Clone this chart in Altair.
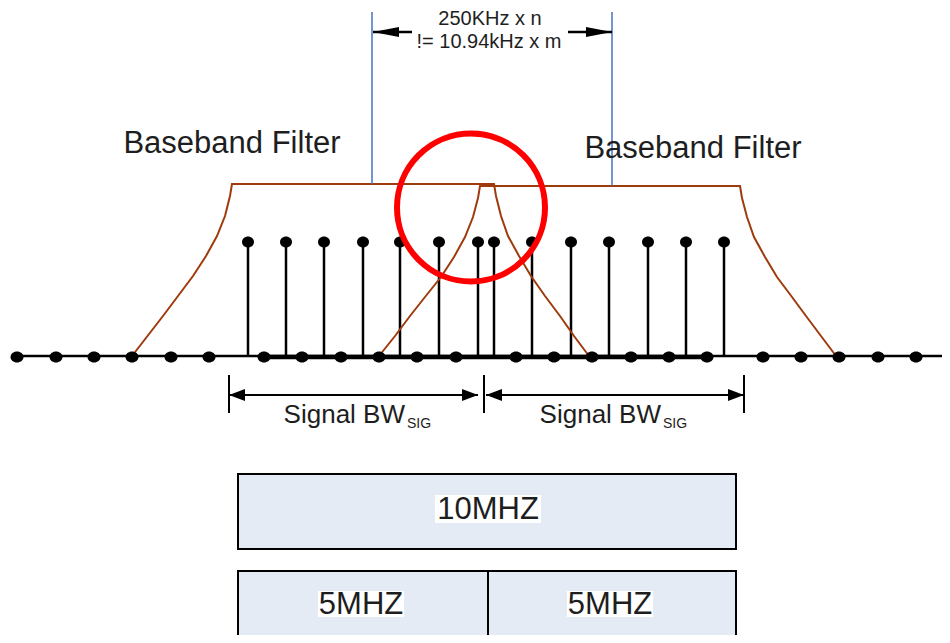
import altair as alt
import pandas as pd

# ---- values (page-pixel coordinates) ----
axis_y = 356
axis_dots_x = [17, 56, 94, 132, 171, 209, 264, 302, 341, 379, 417, 456,
               516, 554, 592, 631, 669, 707, 763, 801, 839, 878, 916, 950]
stems_x = [248, 286, 324, 363, 400, 439, 478,
           494, 532, 571, 609, 648, 686, 724]
stem_top_y = 242

# two baseband filter outlines
filter_a_x = [132, 147.5, 163, 178, 193, 206, 217, 225, 230, 232,
              494, 496, 501, 508, 519, 531, 545, 560, 574, 589]
filter_a_y = [356, 336, 316, 296, 276, 256, 236, 216, 196, 184,
              184, 196, 216, 236, 256, 276, 296, 316, 336, 356]
filter_b_x = [379, 395, 410, 425, 441, 454, 465, 473, 478, 480,
              740, 742, 747, 754, 765, 777, 792, 806, 821, 836]
filter_b_y = [356, 336, 316, 297, 277, 257, 237, 217, 198, 186,
              186, 198, 217, 237, 257, 277, 297, 316, 336, 356]

guide_x = [372, 612]
guide_y_top = [12, 12]
guide_y_bottom = [184, 186]

top_arrow_y = 32
top_arrow_from = [373, 568]
top_arrow_to = [412, 612]

bw_y = 395
bw_from = [229, 486]
bw_to = [478, 744]
bw_ticks_x = [229, 484, 744]

boxes_x = [238, 238, 488]
boxes_x2 = [736, 488, 736]
boxes_y = [474, 571, 571]
boxes_y2 = [549, 660, 660]

big_labels = ["Baseband Filter", "Baseband Filter", "10MHZ", "5MHZ", "5MHZ"]
big_labels_x = [232, 693, 488, 361, 610]
big_labels_y = [153, 158, 519, 614, 614]

top_labels = ["250KHz x n", "!= 10.94kHz x m"]
top_labels_x = [490, 489]
top_labels_y = [25, 48]

bw_labels = ["Signal BW", "Signal BW"]
bw_labels_x = [405, 661]
bw_labels_y = [423, 423]
sub_labels = ["SIG", "SIG"]
sub_labels_x = [407, 663]
sub_labels_y = [428, 428]

circle_x = [471]
circle_y = [207.5]

# ---- chart ----
W, H = 934, 627
X = lambda f="x": alt.X(f"{f}:Q", scale=alt.Scale(domain=[8, 8 + W], nice=False, zero=False), axis=None)
Y = lambda f="y": alt.Y(f"{f}:Q", scale=alt.Scale(domain=[8, 8 + H], nice=False, zero=False, reverse=True), axis=None)

FONT = "Liberation Sans"
TXT = "#1e1e1e"
BROWN = "#9E3B0C"
BLUE = "#4472C4"

layers = []

# boxes
df_boxes = pd.DataFrame({"x": boxes_x, "x2": boxes_x2, "y": boxes_y, "y2": boxes_y2})
layers.append(alt.Chart(df_boxes).mark_rect(fill="#E4EBF5", stroke="black", strokeWidth=2).encode(
    x=X(), x2="x2:Q", y=Y(), y2="y2:Q"))

# axis line
df_axis = pd.DataFrame({"x": [14], "x2": [950], "y": [axis_y]})
layers.append(alt.Chart(df_axis).mark_rule(color="black", strokeWidth=2.5).encode(x=X(), x2="x2:Q", y=Y()))
df_thick = pd.DataFrame({"x": [stems_x[0] + 14], "x2": [axis_dots_x[17] + 5], "y": [axis_y + 1]})
layers.append(alt.Chart(df_thick).mark_rule(color="black", strokeWidth=4.5).encode(x=X(), x2="x2:Q", y=Y()))

# stems
df_stems = pd.DataFrame({"x": stems_x, "y": [stem_top_y] * len(stems_x), "y2": [axis_y] * len(stems_x)})
layers.append(alt.Chart(df_stems).mark_rule(color="black", strokeWidth=2.5).encode(x=X(), y=Y(), y2="y2:Q"))

# filters
rows = []
for name, xs, ys in [("a", filter_a_x, filter_a_y), ("b", filter_b_x, filter_b_y)]:
    for i, (xx, yy) in enumerate(zip(xs, ys)):
        rows.append({"f": name, "i": i, "x": xx, "y": yy})
df_filters = pd.DataFrame(rows)
layers.append(alt.Chart(df_filters).mark_line(color=BROWN, strokeWidth=2, interpolate="linear").encode(
    x=X(), y=Y(), detail="f:N", order="i:Q"))

# blue guides
df_guides = pd.DataFrame({"x": guide_x, "y": guide_y_top, "y2": guide_y_bottom})
layers.append(alt.Chart(df_guides).mark_rule(color=BLUE, strokeWidth=1.5).encode(x=X(), y=Y(), y2="y2:Q"))

# top arrow shafts
df_ta = pd.DataFrame({"x": top_arrow_from, "x2": top_arrow_to, "y": [top_arrow_y] * 2})
layers.append(alt.Chart(df_ta).mark_rule(color="black", strokeWidth=2.5).encode(x=X(), x2="x2:Q", y=Y()))

# bw arrow shafts and ticks
df_bw = pd.DataFrame({"x": bw_from, "x2": bw_to, "y": [bw_y] * 2})
layers.append(alt.Chart(df_bw).mark_rule(color="black", strokeWidth=2).encode(x=X(), x2="x2:Q", y=Y()))
df_bwt = pd.DataFrame({"x": bw_ticks_x, "y": [bw_y - 20] * 3, "y2": [bw_y + 18] * 3})
layers.append(alt.Chart(df_bwt).mark_rule(color="black", strokeWidth=2).encode(x=X(), y=Y(), y2="y2:Q"))

# arrowheads
heads = [
    ("M0,0 L26,-5 L26,5 Z", [top_arrow_from[0]], [top_arrow_y]),
    ("M0,0 L-26,-5 L-26,5 Z", [top_arrow_to[1]], [top_arrow_y]),
    ("M0,0 L16,-6 L16,6 Z", [bw_from[0], bw_from[1]], [bw_y, bw_y]),
    ("M0,0 L-16,-6 L-16,6 Z", [bw_to[0], bw_to[1]], [bw_y, bw_y]),
]
for path, xs, ys in heads:
    d = pd.DataFrame({"x": xs, "y": ys})
    layers.append(alt.Chart(d).mark_point(shape=path, size=4, filled=True, fill="black",
                                          strokeWidth=0, opacity=1).encode(x=X(), y=Y()))

# dots
df_adots = pd.DataFrame({"x": axis_dots_x, "y": [axis_y + 1] * len(axis_dots_x)})
layers.append(alt.Chart(df_adots).mark_point(shape="M-6.5,0 A6.5,5.5 0 1,0 6.5,0 A6.5,5.5 0 1,0 -6.5,0 Z", size=4,
                                             filled=True, fill="black", strokeWidth=0, opacity=1).encode(x=X(), y=Y()))
df_sdots = pd.DataFrame({"x": stems_x, "y": [stem_top_y] * len(stems_x)})
layers.append(alt.Chart(df_sdots).mark_point(shape="M-6,0 A6,5.5 0 1,0 6,0 A6,5.5 0 1,0 -6,0 Z", size=4,
                                             filled=True, fill="black", strokeWidth=0, opacity=1).encode(x=X(), y=Y()))

# white background behind the box labels
df_tbg = pd.DataFrame({"x": [435, 318, 567], "x2": [541, 404, 653],
                       "y": [495, 591, 591], "y2": [523, 617, 617]})
layers.append(alt.Chart(df_tbg).mark_rect(fill="white").encode(x=X(), x2="x2:Q", y=Y(), y2="y2:Q"))

# texts
df_big = pd.DataFrame({"t": big_labels, "x": big_labels_x, "y": big_labels_y})
layers.append(alt.Chart(df_big).mark_text(font=FONT, fontSize=31, color=TXT, align="center",
                                          baseline="alphabetic").encode(x=X(), y=Y(), text="t:N"))
df_top = pd.DataFrame({"t": top_labels, "x": top_labels_x, "y": top_labels_y})
layers.append(alt.Chart(df_top).mark_text(font=FONT, fontSize=20, color=TXT, align="center",
                                          baseline="alphabetic").encode(x=X(), y=Y(), text="t:N"))
df_bwl = pd.DataFrame({"t": bw_labels, "x": bw_labels_x, "y": bw_labels_y})
layers.append(alt.Chart(df_bwl).mark_text(font=FONT, fontSize=26, color=TXT, align="right",
                                          baseline="alphabetic").encode(x=X(), y=Y(), text="t:N"))
df_sub = pd.DataFrame({"t": sub_labels, "x": sub_labels_x, "y": sub_labels_y})
layers.append(alt.Chart(df_sub).mark_text(font=FONT, fontSize=14, color=TXT, align="left",
                                          baseline="alphabetic").encode(x=X(), y=Y(), text="t:N"))

# red highlight circle
df_circ = pd.DataFrame({"x": circle_x, "y": circle_y})
layers.append(alt.Chart(df_circ).mark_point(shape="circle", size=148 * 148, filled=False, stroke="#FF0000",
                                            strokeWidth=6, opacity=1).encode(x=X(), y=Y()))

chart = alt.layer(*layers).properties(
    width=W, height=H, padding=0, autosize=alt.AutoSizeParams(type="none")
).configure_view(stroke=None)

chart.save("out.html", embed_options={"renderer": "svg", "actions": False})
